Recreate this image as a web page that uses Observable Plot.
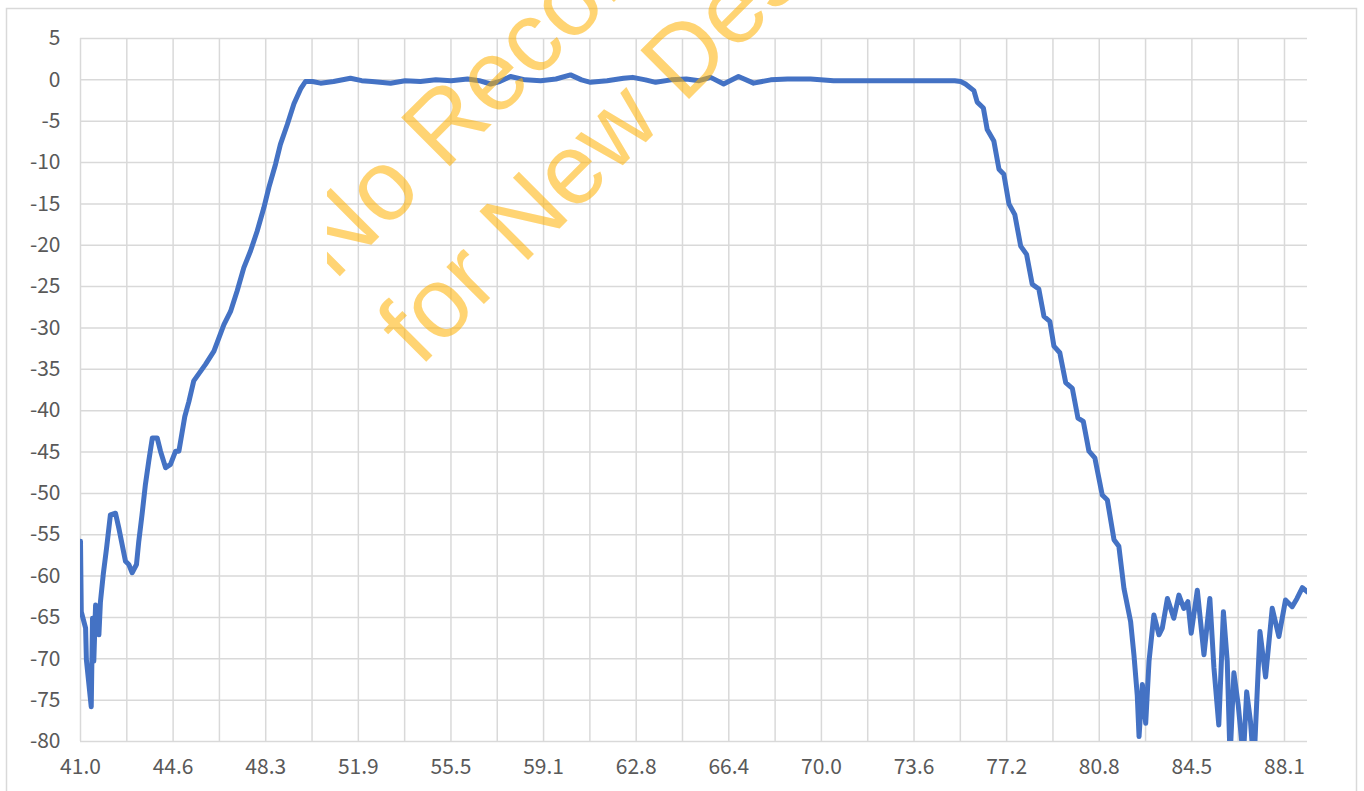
<!DOCTYPE html>
<html>
<head>
<meta charset="utf-8">
<script src="https://cdn.jsdelivr.net/npm/d3@7"></script>
<script src="https://cdn.jsdelivr.net/npm/@observablehq/plot@0.6"></script>
<style>
  html, body { margin: 0; padding: 0; background: #ffffff; }
  svg { display: block; }
</style>
</head>
<body>
<div id="chart"></div>
<script>
// Frequency (MHz) and response (dB)
const freq = [
  41.00, 41.03, 41.20, 41.23, 41.42, 41.47, 41.52, 41.59, 41.72, 41.78,
  41.89, 42.02, 42.17, 42.37, 42.50, 42.63, 42.76, 42.89, 43.02, 43.19,
  43.28, 43.41, 43.54, 43.67, 43.81, 44.00, 44.13, 44.33, 44.52, 44.72,
  44.85, 45.08, 45.24, 45.43, 45.89, 46.22, 46.61, 46.87, 47.13, 47.39,
  47.65, 47.91, 48.17, 48.37, 48.63, 48.82, 49.09, 49.35, 49.61, 49.80,
  50.07, 50.39, 50.90, 51.56, 52.00, 52.40, 53.13, 53.70, 54.30, 54.90,
  55.50, 56.14, 56.60, 57.04, 57.40, 57.82, 58.40, 59.00, 59.60, 60.17,
  60.60, 60.95, 61.60, 62.24, 62.60, 63.10, 63.50, 64.10, 64.70, 65.20,
  65.65, 66.16, 66.74, 67.33, 68.00, 68.66, 69.56, 70.46, 71.50, 72.50,
  73.50, 74.50, 75.20, 75.43, 75.62, 75.95, 76.08, 76.32, 76.47, 76.73,
  76.93, 77.12, 77.32, 77.55, 77.78, 78.01, 78.23, 78.49, 78.69, 78.92,
  79.08, 79.31, 79.54, 79.80, 80.02, 80.23, 80.45, 80.68, 80.97, 81.17,
  81.43, 81.62, 81.82, 82.08, 82.21, 82.34, 82.41, 82.54, 82.67, 82.80,
  82.99, 83.19, 83.32, 83.52, 83.77, 83.97, 84.16, 84.32, 84.45, 84.69,
  84.95, 85.18, 85.34, 85.53, 85.71, 85.86, 85.97, 86.12, 86.29, 86.49,
  86.62, 86.77, 86.90, 87.14, 87.36, 87.62, 87.88, 88.14, 88.40, 88.59,
  88.80, 88.99
];
const gain = [
  -55.8, -64.3, -66.3, -70.1, -75.8, -65.1, -70.3, -63.5, -67.1, -63.1,
  -59.8, -56.6, -52.6, -52.4, -54.2, -56.2, -58.2, -58.6, -59.6, -58.6,
  -55.8, -52.5, -48.9, -46.1, -43.3, -43.3, -44.9, -46.9, -46.5, -44.9,
  -44.9, -40.7, -38.9, -36.4, -34.4, -32.8, -29.6, -28.0, -25.5, -22.7,
  -20.7, -18.3, -15.5, -13.0, -10.2, -7.8, -5.4, -2.9, -1.1, -0.2,
  -0.2, -0.4, -0.2, 0.2, -0.1, -0.2, -0.4, -0.1, -0.2, 0.0,
  -0.1, 0.1, -0.1, -0.5, -0.2, 0.4, 0.0, -0.1, 0.1, 0.6,
  0.0, -0.3, -0.1, 0.2, 0.3, 0.0, -0.3, 0.0, 0.1, -0.1,
  0.3, -0.5, 0.4, -0.4, 0.0, 0.1, 0.1, -0.1, -0.1, -0.1,
  -0.1, -0.1, -0.1, -0.2, -0.5, -1.3, -2.7, -3.4, -6.0, -7.4,
  -10.8, -11.4, -15.0, -16.3, -20.1, -21.1, -24.7, -25.3, -28.6, -29.2,
  -32.2, -33.0, -36.6, -37.3, -40.9, -41.3, -44.9, -45.7, -50.2, -50.8,
  -55.6, -56.4, -61.5, -65.5, -69.5, -74.4, -79.4, -73.1, -77.8, -70.3,
  -64.7, -67.1, -66.3, -62.7, -65.1, -62.3, -63.9, -63.1, -66.9, -61.7,
  -69.5, -62.7, -71.1, -78.0, -64.3, -70.3, -82.0, -71.7, -75.6, -82.0,
  -74.0, -77.6, -83.0, -66.7, -72.2, -63.9, -67.3, -62.9, -63.7, -62.7,
  -61.4, -61.9
];
const xTickLabels = ["41.0", "44.6", "48.3", "51.9", "55.5", "59.1", "62.8",
                     "66.4", "70.0", "73.6", "77.2", "80.8", "84.5", "88.1"];
const yTicks = [5, 0, -5, -10, -15, -20, -25, -30, -35, -40, -45, -50, -55,
                -60, -65, -70, -75, -80];
const xDomain = [41, 89];
const yDomain = [-80, 5];
const watermarkLines = ["No Recommended", "for New Designs"];

// derived tick positions (labels are evenly spaced category labels)
const xFirst = parseFloat(xTickLabels[0]);
const xStep = (parseFloat(xTickLabels[xTickLabels.length - 1]) - xFirst) / (xTickLabels.length - 1);
const xLabelPos = xTickLabels.map((_, i) => xFirst + i * xStep);
const xGridPos = d3.range(0, 2 * (xTickLabels.length - 1) + 1).map(k => xFirst + k * xStep / 2);
const data = freq.map((f, i) => ({f, g: gain[i]}));

const gridColor = "#d9d9d9";
const chart = Plot.plot({
  width: 1364,
  height: 791,
  marginLeft: 80,
  marginRight: 57,
  marginTop: 38,
  marginBottom: 50,
  style: {
    fontFamily: "'Noto Sans CJK SC', 'Noto Sans', sans-serif",
    fontSize: "21px",
    color: "#595959",
    background: "#ffffff",
    overflow: "visible"
  },
  x: {domain: xDomain, label: null},
  y: {domain: yDomain, label: null},
  marks: [
    Plot.ruleY(yTicks, {stroke: gridColor, strokeWidth: 1.5}),
    Plot.ruleX(xGridPos, {stroke: gridColor, strokeWidth: 1.5}),
    Plot.axisY(yTicks, {tickSize: 0, tickPadding: 20, label: null,
                        tickFormat: d => String(d), fill: "#595959"}),
    Plot.axisX(xLabelPos, {
      tickSize: 0, tickPadding: 18, label: null,
      tickFormat: d => xTickLabels[Math.round((d - xFirst) / xStep)],
      fill: "#595959"
    }),
    Plot.line(data, {x: "f", y: "g", stroke: "#4472C4", strokeWidth: 5,
                     strokeLinejoin: "round", strokeLinecap: "round", clip: true})
  ]
});
document.getElementById("chart").appendChild(chart);

// outer chart-area border and watermark
const svg = d3.select(chart);
svg.append("rect")
  .attr("x", 6.5).attr("y", 8.5).attr("width", 1350).attr("height", 800)
  .attr("fill", "none").attr("stroke", gridColor).attr("stroke-width", 1.5);
svg.append("defs").append("clipPath").attr("id", "wmclip")
  .append("rect").attr("x", 327).attr("y", 0).attr("width", 1100).attr("height", 791);
const wm = svg.append("g")
  .attr("clip-path", "url(#wmclip)")
  .attr("fill", "#FFB000").attr("fill-opacity", 0.55)
  .attr("text-anchor", "start")
  .style("font-family", "'Liberation Sans', Arial, sans-serif")
  .style("font-size", "100px");
wm.append("text").attr("transform", "translate(334,282) rotate(-45)").text(watermarkLines[0]);
wm.append("text").attr("transform", "translate(420,368) rotate(-45)").text(watermarkLines[1]);
</script>
</body>
</html>
